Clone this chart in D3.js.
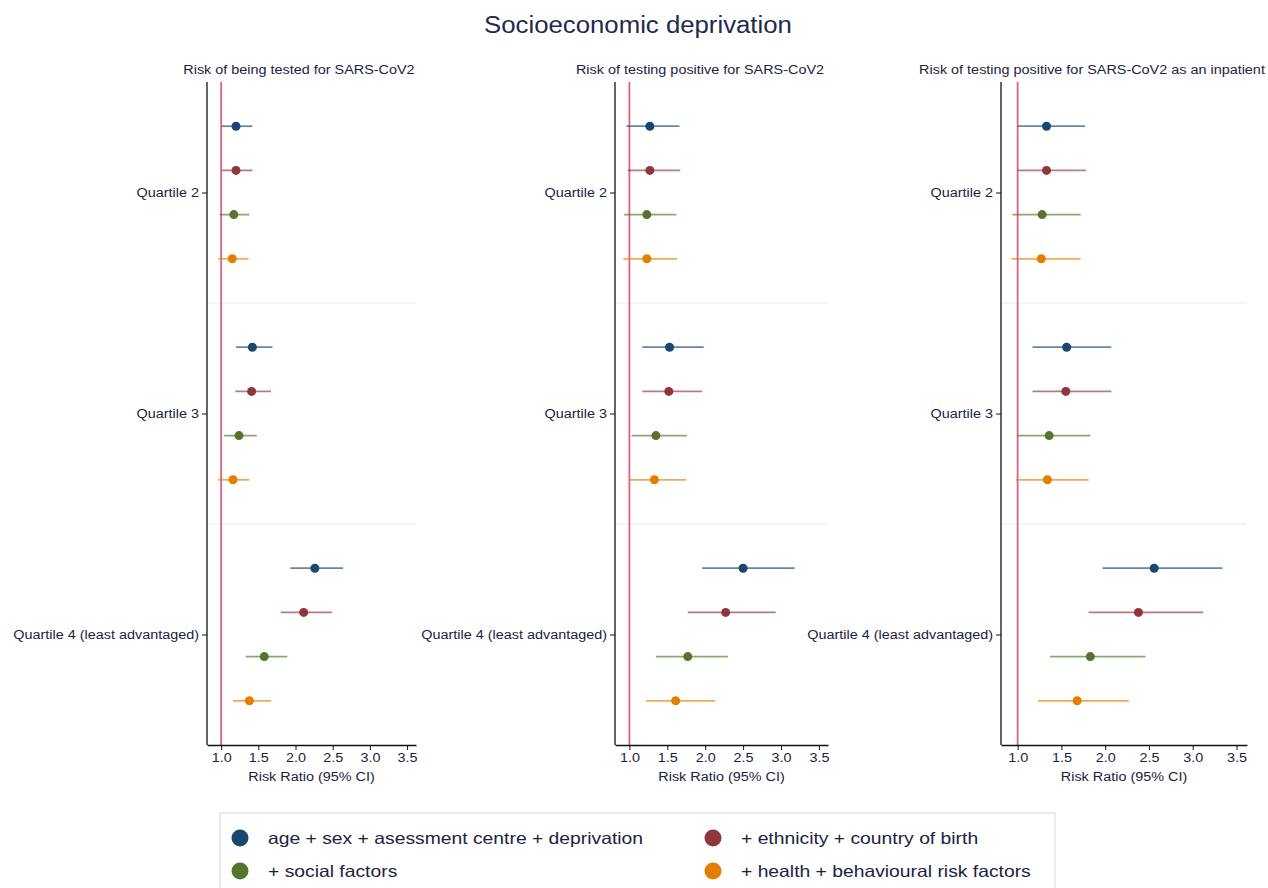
<!DOCTYPE html>
<html><head><meta charset="utf-8">
<script src="https://cdn.jsdelivr.net/npm/d3@7"></script>
<style>body{margin:0;background:#fff;font-family:"Liberation Sans",Arial,sans-serif;}</style>
</head><body><svg id="c" width="1268" height="888"></svg>
<script>
const title = "Socioeconomic deprivation";
const outcomes = ["Risk of being tested for SARS-CoV2","Risk of testing positive for SARS-CoV2","Risk of testing positive for SARS-CoV2 as an inpatient"];
const quartiles = ["Quartile 2","Quartile 3","Quartile 4 (least advantaged)"];
const models = ["age + sex + asessment centre + deprivation","+ ethnicity + country of birth","+ social factors","+ health + behavioural risk factors"];
const colors = ["#1a476f","#90353b","#55752f","#e37e00"];
const xTicks = [1.0,1.5,2.0,2.5,3.0,3.5];
const xLabel = "Risk Ratio (95% CI)";
// [outcome][quartile][model] = [estimate, lower, upper]
const tested = [
  [[1.20,1.01,1.42],[1.20,1.01,1.42],[1.17,0.98,1.38],[1.15,0.96,1.37]],
  [[1.42,1.20,1.69],[1.41,1.19,1.67],[1.24,1.04,1.48],[1.16,0.96,1.38]],
  [[2.26,1.93,2.64],[2.11,1.80,2.49],[1.58,1.33,1.89],[1.38,1.16,1.67]]
];
const positive = [
  [[1.27,0.96,1.66],[1.27,0.98,1.67],[1.23,0.93,1.62],[1.23,0.92,1.63]],
  [[1.53,1.17,1.98],[1.52,1.17,1.96],[1.35,1.03,1.76],[1.33,1.00,1.75]],
  [[2.50,1.96,3.18],[2.27,1.77,2.93],[1.77,1.35,2.30],[1.61,1.22,2.13]]
];
const inpatient = [
  [[1.33,1.00,1.77],[1.33,1.00,1.78],[1.28,0.94,1.72],[1.27,0.93,1.72]],
  [[1.56,1.17,2.07],[1.55,1.17,2.07],[1.36,1.00,1.83],[1.34,0.98,1.81]],
  [[2.56,1.97,3.34],[2.38,1.81,3.12],[1.83,1.37,2.46],[1.68,1.23,2.27]]
];
const panelData = [tested, positive, inpatient];

// layout
const panels = [{x0:207,x1:416,sub:299},{x0:615,x1:828,sub:700},{x0:1001,x1:1247,sub:1092}];
const plotTop = 82, plotBottom = 745;
const xDomain = [0.81, 3.62];
const textColor = "#1c2340";

const svg = d3.select("#c");
function stretch(sel, k){
  sel.each(function(){
    const w = this.getComputedTextLength();
    d3.select(this).attr("textLength", w*k).attr("lengthAdjust","spacingAndGlyphs");
  });
}
stretch(svg.append("text").attr("x",638).attr("y",33).attr("text-anchor","middle")
  .attr("font-size",23).attr("fill","#1f2a4d").text(title), 1.12);

const yBand = d3.scaleBand().domain(quartiles).range([plotTop,plotBottom]).padding(0);
const rowStep = 44.2;

panels.forEach((p,pi)=>{
  const g = svg.append("g");
  const x = d3.scaleLinear().domain(xDomain).range([p.x0,p.x1]);
  stretch(g.append("text").attr("x",p.sub).attr("y",74).attr("text-anchor","middle")
    .attr("font-size",12).attr("fill",textColor).text(outcomes[pi]), 1.2);
  quartiles.slice(1).forEach(q=>{
    g.append("line").attr("x1",p.x0).attr("x2",p.x1)
      .attr("y1",yBand(q)).attr("y2",yBand(q)).attr("stroke","#e6ecee").attr("stroke-width",1);
  });
  g.append("line").attr("x1",x(1)).attr("x2",x(1)).attr("y1",plotTop).attr("y2",plotBottom)
    .attr("stroke","#d63a62").attr("stroke-opacity",0.8).attr("stroke-width",1.8);
  const yAxis = d3.axisLeft(d3.scalePoint().domain(quartiles).range([yBand(quartiles[0])+yBand.bandwidth()/2, yBand(quartiles[2])+yBand.bandwidth()/2]))
    .tickSize(5).tickPadding(3);
  const ya = g.append("g").attr("transform",`translate(${p.x0},0)`).call(yAxis);
  ya.select(".domain").remove();
  ya.selectAll("line").attr("stroke","#111");
  ya.selectAll("text").attr("font-size",12).attr("fill",textColor).attr("font-family","Liberation Sans, Arial, sans-serif");
  stretch(ya.selectAll("text"), 1.2);
  g.append("line").attr("x1",p.x0).attr("x2",p.x0).attr("y1",plotTop).attr("y2",plotBottom).attr("stroke","#111").attr("stroke-width",1.3);
  const xa = g.append("g").attr("transform",`translate(0,${plotBottom})`)
    .call(d3.axisBottom(x).tickValues(xTicks).tickFormat(d3.format(".1f")).tickSizeInner(5).tickSizeOuter(0).tickPadding(3));
  xa.select(".domain").attr("stroke","#111").attr("stroke-width",1.3);
  xa.selectAll("line").attr("stroke","#111");
  xa.selectAll("text").attr("font-size",12).attr("fill",textColor).attr("font-family","Liberation Sans, Arial, sans-serif");
  stretch(xa.selectAll("text"), 1.2);
  stretch(g.append("text").attr("x",(p.x0+p.x1)/2).attr("y",781).attr("text-anchor","middle")
    .attr("font-size",12).attr("fill",textColor).text(xLabel), 1.2);
  panelData[pi].forEach((qd,qi)=>{
    const cy = yBand(quartiles[qi]) + yBand.bandwidth()/2;
    qd.forEach((d,mi)=>{
      const y = cy + (mi-1.5)*rowStep;
      g.append("line").attr("x1",x(d[1])).attr("x2",x(d[2])).attr("y1",y).attr("y2",y)
        .attr("stroke",colors[mi]).attr("stroke-opacity",0.65).attr("stroke-width",1.8);
      g.append("circle").attr("cx",x(d[0])).attr("cy",y).attr("r",4.5).attr("fill",colors[mi]);
    });
  });
});

const lg = svg.append("g");
lg.append("rect").attr("x",220).attr("y",813).attr("width",835).attr("height",90)
  .attr("fill","#fff").attr("stroke","#e0e7ea").attr("stroke-width",1.5);
const legPos = [[240,838],[713,838],[240,871],[713,871]];
models.forEach((m,i)=>{
  lg.append("circle").attr("cx",legPos[i][0]).attr("cy",legPos[i][1]).attr("r",8.5).attr("fill",colors[i]);
  stretch(lg.append("text").attr("x",legPos[i][0]+28).attr("y",legPos[i][1]+6).attr("font-size",16.5)
    .attr("fill",textColor).text(m), 1.17);
});
</script></body></html>
